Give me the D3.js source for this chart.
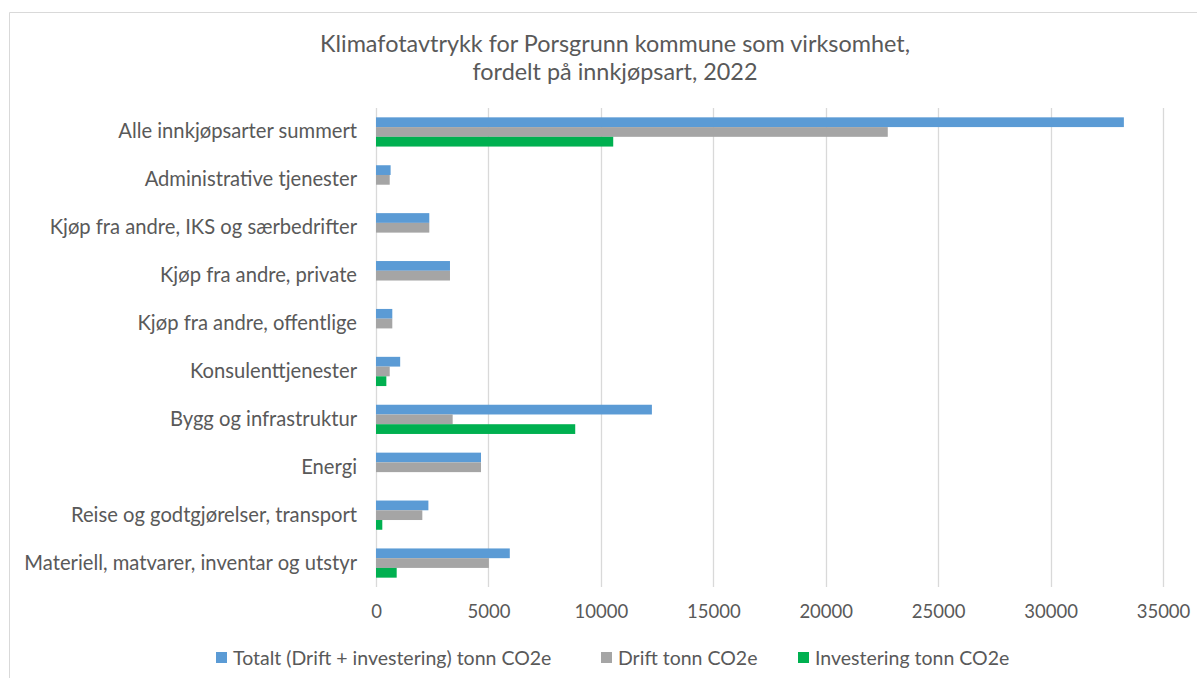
<!DOCTYPE html>
<html><head><meta charset="utf-8">
<script src="https://cdn.jsdelivr.net/npm/d3@7"></script>
<style>
html,body{margin:0;padding:0;background:#fff;}
svg{display:block;font-family:Lato,"Open Sans",sans-serif;}
</style></head>
<body>
<svg id="chart" width="1197" height="678"></svg>
<script>
const titleLines = ["Klimafotavtrykk for Porsgrunn kommune som virksomhet,", "fordelt på innkjøpsart, 2022"];
const categories = [
  "Alle innkjøpsarter summert",
  "Administrative tjenester",
  "Kjøp fra andre, IKS og særbedrifter",
  "Kjøp fra andre, private",
  "Kjøp fra andre, offentlige",
  "Konsulenttjenester",
  "Bygg og infrastruktur",
  "Energi",
  "Reise og godtgjørelser, transport",
  "Materiell, matvarer, inventar og utstyr"
];
const seriesNames = ["Totalt (Drift + investering) tonn CO2e", "Drift tonn CO2e", "Investering tonn CO2e"];
const totalt = [33260, 650, 2370, 3290, 725, 1075, 12270, 4670, 2330, 5950];
const drift = [22760, 610, 2370, 3290, 725, 610, 3410, 4670, 2060, 5020];
const investering = [10550, 0, 0, 0, 0, 460, 8860, 0, 280, 920];
const tickValues = [0, 5000, 10000, 15000, 20000, 25000, 30000, 35000];
const colors = ["#5B9BD5", "#A5A5A5", "#00B050"];

const svg = d3.select("#chart");
const textColor = "#595959";
const font = "Lato,'Open Sans',sans-serif";

// border
svg.append("path").attr("d", "M9.5,678 L9.5,12.5 L1197,12.5")
  .attr("fill", "none").attr("stroke", "#d9d9d9").attr("stroke-width", 1);

// title
svg.append("g").selectAll("text").data(titleLines).join("text")
  .attr("x", 615).attr("y", (d, i) => 52 + i * 28)
  .attr("text-anchor", "middle").attr("fill", textColor)
  .attr("font-size", 23.4).text(d => d);

const x = d3.scaleLinear().domain([0, 35000]).range([376, 1163]);
const y = d3.scaleBand().domain(categories).range([108, 587]).paddingInner(0.39).paddingOuter(0.195);
const ySub = d3.scaleBand().domain([0, 1, 2]).range([0, y.bandwidth()]);

// gridlines
svg.append("g").selectAll("line").data(tickValues).join("line")
  .attr("x1", d => Math.round(x(d)) + 0.5).attr("x2", d => Math.round(x(d)) + 0.5)
  .attr("y1", 108).attr("y2", 587)
  .attr("stroke", "#d9d9d9").attr("stroke-width", 1.3);

// x axis labels
const xAxis = d3.axisBottom(x).tickValues(tickValues).tickSize(0).tickPadding(0).tickFormat(d3.format("d"));
const gx = svg.append("g").attr("transform", "translate(0,605)").call(xAxis);
gx.select(".domain").remove();
gx.selectAll("text").attr("fill", textColor).attr("font-size", 18.5).attr("font-family", font);

// y axis labels
const yAxis = d3.axisLeft(y).tickSize(0).tickPadding(0);
const gy = svg.append("g").attr("transform", "translate(357,0)").call(yAxis);
gy.select(".domain").remove();
gy.selectAll("text").attr("fill", textColor).attr("font-size", 20.2).attr("font-family", font);

// bars
const allSeries = [totalt, drift, investering];
categories.forEach((c, ci) => {
  allSeries.forEach((s, si) => {
    if (s[ci] <= 0) return;
    svg.append("rect")
      .attr("x", x(0)).attr("y", y(c) + ySub(si))
      .attr("width", x(s[ci]) - x(0)).attr("height", ySub.bandwidth())
      .attr("fill", colors[si]);
  });
});

// legend
const legendX = [216, 601, 798];
const lg = svg.append("g");
seriesNames.forEach((n, i) => {
  lg.append("rect").attr("x", legendX[i]).attr("y", 652).attr("width", 11).attr("height", 11).attr("fill", colors[i]);
  lg.append("text").attr("x", legendX[i] + 17).attr("y", 665).attr("fill", textColor)
    .attr("font-size", 19.5).text(n);
});
</script>
</body></html>
